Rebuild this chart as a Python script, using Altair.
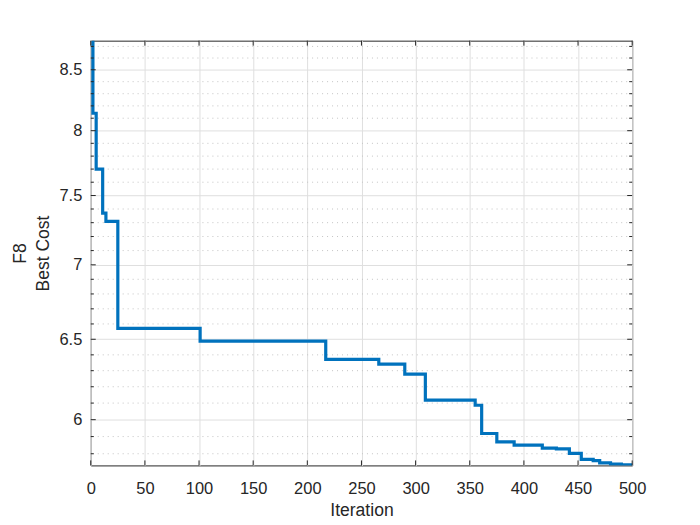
import altair as alt
import pandas as pd

# Step-wise best cost curve (iteration where value changes, value)
iterations = [1, 2, 5, 11, 14, 25, 101, 217, 266, 290, 309, 355, 361, 375,
              391, 417, 430, 442, 453, 464, 470, 480, 490, 500]
best_cost = [8.75, 8.14, 7.70, 7.37, 7.31, 6.571, 6.488, 6.371, 6.341, 6.278,
             6.118, 6.087, 5.918, 5.869, 5.850, 5.832, 5.828, 5.802, 5.768,
             5.760, 5.747, 5.740, 5.736, 5.733]

x_ticks = [0, 50, 100, 150, 200, 250, 300, 350, 400, 450, 500]
y_major = [6, 6.5, 7, 7.5, 8, 8.5]
y_minor = [5.8, 5.9, 6.1, 6.2, 6.3, 6.4, 6.6, 6.7, 6.8, 6.9, 7.1, 7.2, 7.3,
           7.4, 7.6, 7.7, 7.8, 7.9, 8.1, 8.2, 8.3, 8.4, 8.6, 8.7]

W, H = 543, 426
TXT = "#262626"
FONT = "Liberation Sans"

line_df = pd.DataFrame({"iter": iterations, "cost": best_cost})
major_df = pd.DataFrame({"cost": y_major})
minor_df = pd.DataFrame({"cost": y_minor})
xt_df = pd.DataFrame({"iter": x_ticks})

xscale = alt.Scale(domain=[0, 500], nice=False, zero=False)
yscale = alt.Scale(type="log", domain=[5.733, 8.75], nice=False, zero=False)

xaxis = alt.Axis(values=x_ticks, grid=True, gridColor="#dfdfdf", ticks=False,
                 domain=False, labelFontSize=16.5, labelColor=TXT, labelFont=FONT,
                 labelPadding=15, title="Iteration", titleFont=FONT,
                 titleFontSize=17.6, titleFontWeight="normal", titleColor=TXT,
                 titlePadding=5, labelFlush=False)
yaxis = alt.Axis(values=y_major, format="~g", grid=True, gridColor="#dfdfdf",
                 ticks=False, domain=False, labelFontSize=16.5, labelColor=TXT,
                 labelFont=FONT, labelPadding=9, title=["F8", "Best Cost"],
                 titleFont=FONT, titleFontSize=17.6, titleFontWeight="normal",
                 titleColor=TXT, titlePadding=6, titleLineHeight=24,
                 labelFlush=False)

X = alt.X("iter:Q", scale=xscale, axis=xaxis)
Y = alt.Y("cost:Q", scale=yscale, axis=yaxis)

minor_grid = alt.Chart(minor_df).mark_rule(
    color="#c4c4c4", strokeWidth=1, strokeDash=[1, 4]
).encode(y=Y)

line = alt.Chart(line_df).mark_line(
    interpolate="step-after", color="#0072BD", strokeWidth=3.2, clip=True
).encode(x=X, y=Y)

yl_major = alt.Chart(major_df).mark_rule(color=TXT).encode(
    y=Y, x=alt.value(0), x2=alt.value(5))
yr_major = alt.Chart(major_df).mark_rule(color=TXT).encode(
    y=Y, x=alt.value(W - 5), x2=alt.value(W))
yl_minor = alt.Chart(minor_df).mark_rule(color=TXT).encode(
    y=Y, x=alt.value(0), x2=alt.value(3))
yr_minor = alt.Chart(minor_df).mark_rule(color=TXT).encode(
    y=Y, x=alt.value(W - 3), x2=alt.value(W))
xb = alt.Chart(xt_df).mark_rule(color=TXT).encode(
    x=X, y=alt.value(H - 5), y2=alt.value(H))
xt = alt.Chart(xt_df).mark_rule(color=TXT).encode(
    x=X, y=alt.value(0), y2=alt.value(5))

chart = alt.layer(
    minor_grid, line, yl_major, yr_major, yl_minor, yr_minor, xb, xt
).properties(
    width=W, height=H,
    autosize=alt.AutoSizeParams(type="none"),
    padding={"left": 83, "top": 32, "right": 60, "bottom": 58},
    background="white",
).configure_view(
    stroke=TXT, strokeWidth=1
)

chart.save("out.html", embed_options={"renderer": "svg", "actions": False})
